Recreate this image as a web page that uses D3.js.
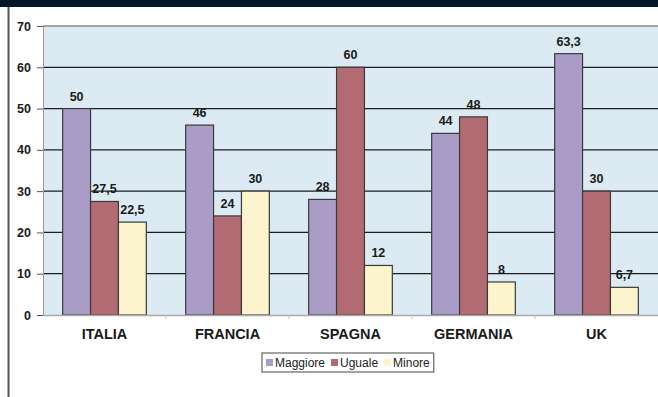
<!DOCTYPE html>
<html>
<head>
<meta charset="utf-8">
<script src="https://cdn.jsdelivr.net/npm/d3@7"></script>
<style>
  html, body { margin: 0; padding: 0; background: #fff; }
  svg { display: block; font-family: "Liberation Sans", Arial, sans-serif; }
</style>
</head>
<body>
<svg id="chart" width="658" height="397"></svg>
<script>
// paesi e serie
const paesi = ["ITALIA", "FRANCIA", "SPAGNA", "GERMANIA", "UK"];
const serie = ["Maggiore", "Uguale", "Minore"];
const maggiore = [50, 46, 28, 44, 63.3];
const uguale = [27.5, 24, 60, 48, 30];
const minore = [22.5, 30, 12, 8, 6.7];
const yTicks = [0, 10, 20, 30, 40, 50, 60, 70];

const colori = { Maggiore: "#a99cc6", Uguale: "#b26b73", Minore: "#fbf4cd" };

const svg = d3.select("#chart");
const margin = { top: 26, right: 0, bottom: 82, left: 43 };
const width = 658 - margin.left - margin.right;
const height = 397 - margin.top - margin.bottom;

// fascia scura in alto e filetto a sinistra
svg.append("rect").attr("x", 0).attr("y", 0).attr("width", 658).attr("height", 7).attr("fill", "#021626");
svg.append("line").attr("x1", 8.5).attr("x2", 8.5).attr("y1", 7).attr("y2", 397)
    .attr("stroke", "#555").attr("stroke-width", 2);

const g = svg.append("g").attr("transform", `translate(${margin.left},${margin.top})`);

const x0 = d3.scaleBand().domain(paesi).range([0, width]).paddingInner(0.32).paddingOuter(0.16);
const x1 = d3.scaleBand().domain(serie).range([0, x0.bandwidth()]);
const y = d3.scaleLinear().domain([0, 70]).range([height, 0]);

g.append("rect").attr("width", width).attr("height", height).attr("fill", "#dcebf3");

// griglia
g.selectAll(".grid").data(yTicks.filter(t => t > 0 && t < 70)).enter().append("line")
    .attr("x1", 0).attr("x2", width)
    .attr("y1", d => y(d)).attr("y2", d => y(d))
    .attr("stroke", "#1e1e1e").attr("stroke-width", 1.3);
g.append("line").attr("x1", 0).attr("x2", width).attr("y1", 0).attr("y2", 0)
    .attr("stroke", "#888").attr("stroke-width", 1.5);

const dati = paesi.map((p, i) => ({
  paese: p,
  valori: [
    { serie: "Maggiore", v: maggiore[i] },
    { serie: "Uguale", v: uguale[i] },
    { serie: "Minore", v: minore[i] }
  ]
}));

const gruppi = g.selectAll(".gruppo").data(dati).enter().append("g")
    .attr("transform", d => `translate(${x0(d.paese)},0)`);

gruppi.selectAll("rect").data(d => d.valori).enter().append("rect")
    .attr("x", d => x1(d.serie))
    .attr("y", d => y(d.v))
    .attr("width", x1.bandwidth())
    .attr("height", d => height - y(d.v))
    .attr("fill", d => colori[d.serie])
    .attr("stroke", "#3a3a3a").attr("stroke-width", 1.2);

const fmt = v => String(v).replace(".", ",");
gruppi.selectAll("text").data(d => d.valori).enter().append("text")
    .attr("x", d => x1(d.serie) + x1.bandwidth() / 2)
    .attr("y", d => y(d.v) - 8)
    .attr("text-anchor", "middle")
    .attr("font-size", 12.5).attr("font-weight", "bold").attr("fill", "#1a1a1a")
    .text(d => fmt(d.v));

// asse y
const yAxis = g.append("g").call(d3.axisLeft(y).tickValues(yTicks).tickSize(6).tickPadding(6));
yAxis.select(".domain").attr("stroke", "#999");
yAxis.selectAll(".tick line").attr("stroke", "#555");
yAxis.selectAll("text").attr("font-size", 12.5).attr("font-weight", "bold").attr("fill", "#1a1a1a")
    .attr("font-family", "Liberation Sans, Arial, sans-serif");

// asse x
const xAxis = g.append("g").attr("transform", `translate(0,${height})`)
    .call(d3.axisBottom(x0).tickSize(0).tickPadding(14));
xAxis.select(".domain").attr("stroke", "#aaa").attr("stroke-width", 1.5);
xAxis.selectAll("text").attr("font-size", 14.5).attr("font-weight", "bold").attr("fill", "#1a1a1a")
    .attr("font-family", "Liberation Sans, Arial, sans-serif");
g.selectAll(".sep").data(d3.range(1, paesi.length)).enter().append("line")
    .attr("x1", i => i * x0.step()).attr("x2", i => i * x0.step())
    .attr("y1", height).attr("y2", height + 4)
    .attr("stroke", "#bbb");

// legenda
const leg = svg.append("g").attr("transform", "translate(262,353)");
const box = leg.append("rect").attr("height", 19).attr("fill", "#fff")
    .attr("stroke", "#666").attr("stroke-width", 1.2);
let cx = 4;
serie.forEach(s => {
  leg.append("rect").attr("x", cx).attr("y", 6).attr("width", 7).attr("height", 7)
      .attr("fill", colori[s]);
  const t = leg.append("text").attr("x", cx + 9).attr("y", 14)
      .attr("font-size", 12).attr("fill", "#222").text(s);
  cx += 9 + t.node().getComputedTextLength() + 6;
});
box.attr("width", cx - 2);
</script>
</body>
</html>
